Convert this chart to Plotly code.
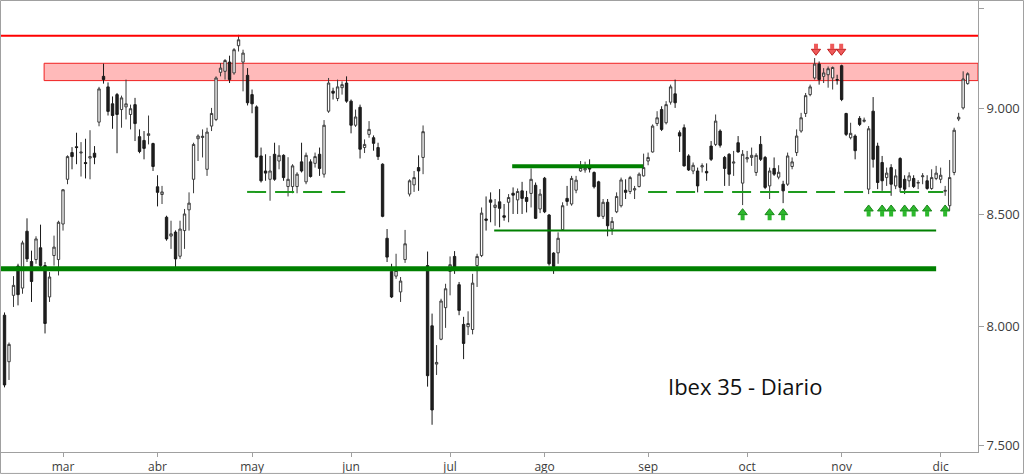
import numpy as np
import pandas as pd
import plotly.graph_objects as go

# ---------------- data ----------------
holidays = ["2016-03-25", "2016-03-28"]
dates = [d.strftime("%Y-%m-%d") for d in pd.bdate_range("2016-02-11", "2016-12-09")
         if d.strftime("%Y-%m-%d") not in holidays]

opens = [8048, 7848, 8135, 8265, 8167, 8422, 8285, 8294, 8347, 8267,
         8128, 8312, 8294, 8455, 8662, 8788, 8816, 8786, 8741, 8762,
         8785, 8934, 9158, 9106, 9023, 9068, 8995, 9008, 8971, 9019,
         8864, 8846, 8870, 8831, 8627, 8591, 8486, 8400, 8418, 8309,
         8425, 8520, 8662, 8854, 8860, 8709, 8915, 8947, 9178, 9183,
         9229, 9175, 9311, 9229, 9163, 9068, 9008, 8772, 8701, 8662,
         8780, 8748, 8775, 8628, 8628, 8628, 8744, 8650, 8744, 8737,
         8780, 8686, 8987, 9085, 9049, 9102, 9125, 9036, 8919, 9006,
         8812, 8875, 8859, 8812, 8733, 8390, 8241, 8220, 8150, 8294,
         8593, 8636, 8717, 8765, 8267, 8002, 7838, 7944, 8081, 8241,
         8308, 8182, 8008, 7998, 7986, 8267, 8312, 8478, 8566, 8531,
         8557, 8493, 8555, 8597, 8566, 8608, 8577, 8596, 8634, 8524,
         8667, 8496, 8323, 8324, 8429, 8573, 8547, 8611, 8701, 8706,
         8717, 8694, 8650, 8490, 8555, 8432, 8511, 8539, 8611, 8605,
         8612, 8628, 8678, 8748, 8791, 8927, 8995, 8931, 9031, 9072,
         8883, 8907, 8772, 8701, 8701, 8720, 8699, 8819, 8827, 8891,
         8765, 8780, 8738, 8835, 8644, 8758, 8765, 8694, 8827, 8765,
         8631, 8713, 8672, 8639, 8639, 8722, 8788, 8891, 8976, 9068,
         9150, 9219, 9158, 9166, 9150, 9142, 9211, 8976, 8859, 8867,
         8952, 8938, 8616, 8987, 8819, 8741, 8670, 8717, 8631, 8760,
         8662, 8655, 8666, 8644, 8674, 8655, 8619, 8666, 8662, 8606,
         8539, 8694, 8949, 9003, 9122]
highs = [8060, 7930, 8220, 8275, 8379, 8481, 8334, 8399, 8452, 8283,
         8238, 8402, 8470, 8616, 8775, 8814, 8883, 8838, 8854, 8895,
         8819, 9106, 9221, 9128, 9059, 9076, 9063, 9142, 9019, 9052,
         8899, 8891, 8966, 8835, 8681, 8631, 8493, 8470, 8426, 8470,
         8524, 8601, 8835, 8875, 8899, 8907, 9003, 9158, 9224, 9244,
         9261, 9299, 9366, 9291, 9199, 9093, 9015, 8812, 8780, 8772,
         8835, 8823, 8780, 8766, 8733, 8695, 8835, 8788, 8756, 8788,
         8812, 8944, 9150, 9102, 9142, 9133, 9158, 9044, 8995, 9019,
         8851, 8939, 8870, 8835, 8737, 8432, 8275, 8320, 8216, 8428,
         8662, 8701, 8775, 8918, 8330, 8055, 7919, 8120, 8186, 8308,
         8332, 8194, 8041, 8065, 8230, 8320, 8531, 8582, 8601, 8570,
         8616, 8547, 8593, 8624, 8619, 8650, 8608, 8713, 8647, 8616,
         8673, 8501, 8327, 8417, 8555, 8631, 8678, 8678, 8748, 8745,
         8756, 8699, 8655, 8570, 8570, 8487, 8601, 8670, 8662, 8678,
         8631, 8694, 8783, 8788, 8923, 8987, 9011, 9036, 9117, 9142,
         8894, 8923, 8780, 8741, 8717, 8737, 8737, 8843, 8971, 8899,
         8772, 8785, 8796, 8867, 8800, 8796, 8812, 8785, 8867, 8772,
         8717, 8765, 8728, 8655, 8788, 8765, 8899, 8979, 9076, 9117,
         9249, 9232, 9199, 9207, 9207, 9166, 9216, 8979, 8931, 8875,
         8963, 8956, 8915, 9056, 8835, 8772, 8717, 8733, 8709, 8766,
         8681, 8695, 8681, 8658, 8691, 8681, 8709, 8725, 8717, 8631,
         8753, 8907, 8979, 9183, 9178]
lows = [7740, 7771, 8084, 8091, 8142, 8283, 8106, 8275, 8253, 7969,
        8106, 8267, 8223, 8425, 8639, 8709, 8733, 8675, 8666, 8662,
        8733, 8914, 9122, 8966, 8902, 8785, 8907, 8947, 8899, 8843,
        8785, 8756, 8827, 8701, 8536, 8547, 8379, 8342, 8260, 8297,
        8342, 8425, 8597, 8748, 8765, 8678, 8891, 8939, 9158, 9142,
        9125, 9166, 9282, 9084, 9015, 8977, 8765, 8647, 8655, 8562,
        8655, 8709, 8655, 8582, 8597, 8597, 8694, 8639, 8670, 8717,
        8678, 8670, 8979, 9044, 9036, 9068, 9028, 8880, 8911, 8760,
        8786, 8859, 8797, 8753, 8486, 8283, 8123, 8208, 8106, 8279,
        8582, 8603, 8608, 8686, 7743, 7585, 7792, 7940, 7993, 8135,
        8230, 8048, 7859, 7962, 7965, 8172, 8305, 8425, 8463, 8447,
        8440, 8470, 8463, 8501, 8501, 8501, 8508, 8531, 8478, 8505,
        8505, 8267, 8230, 8275, 8425, 8539, 8539, 8597, 8697, 8693,
        8694, 8619, 8486, 8478, 8399, 8405, 8505, 8531, 8570, 8593,
        8570, 8624, 8675, 8728, 8788, 8915, 8891, 8923, 9019, 9003,
        8791, 8722, 8701, 8686, 8601, 8694, 8655, 8748, 8819, 8812,
        8631, 8631, 8678, 8788, 8542, 8741, 8725, 8678, 8748, 8616,
        8570, 8678, 8662, 8551, 8631, 8709, 8772, 8883, 8959, 9060,
        9142, 9117, 9125, 9102, 9093, 9117, 9036, 8867, 8851, 8756,
        8915, 8932, 8593, 8717, 8616, 8608, 8631, 8585, 8616, 8602,
        8593, 8625, 8621, 8616, 8639, 8613, 8613, 8658, 8644, 8585,
        8516, 8681, 8939, 8995, 9117]
closes = [7750, 7922, 8179, 8138, 8369, 8297, 8196, 8387, 8267, 8012,
          8216, 8350, 8463, 8613, 8769, 8769, 8812, 8790, 8736, 8769,
          8766, 9096, 9142, 8986, 8966, 8971, 9052, 9023, 8999, 8927,
          8793, 8808, 8878, 8722, 8601, 8603, 8387, 8410, 8297, 8432,
          8501, 8551, 8827, 8867, 8866, 8886, 8976, 9150, 9199, 9237,
          9142, 9291, 9341, 9274, 9028, 9023, 8767, 8655, 8691, 8701,
          8662, 8775, 8670, 8662, 8725, 8686, 8701, 8775, 8675, 8769,
          8713, 8919, 9125, 9075, 9106, 9117, 9036, 8919, 8959, 8804,
          8827, 8899, 8832, 8769, 8490, 8305, 8128, 8245, 8198, 8365,
          8655, 8670, 8701, 8888, 7789, 7646, 7845, 8110, 8164, 8271,
          8257, 8069, 7926, 8012, 8189, 8308, 8505, 8472, 8555, 8542,
          8527, 8486, 8577, 8588, 8605, 8573, 8559, 8662, 8481, 8593,
          8511, 8275, 8263, 8390, 8539, 8559, 8666, 8658, 8717, 8714,
          8710, 8627, 8490, 8555, 8447, 8467, 8582, 8659, 8601, 8670,
          8618, 8686, 8717, 8765, 8915, 8955, 8899, 9019, 9106, 9028,
          8867, 8725, 8706, 8728, 8631, 8726, 8692, 8756, 8939, 8823,
          8713, 8686, 8743, 8791, 8780, 8764, 8775, 8775, 8756, 8624,
          8701, 8686, 8695, 8608, 8772, 8744, 8867, 8955, 9063, 9106,
          9219, 9142, 9175, 9196, 9202, 9140, 9044, 8875, 8880, 8797,
          8923, 8943, 8902, 8756, 8647, 8655, 8691, 8639, 8678, 8624,
          8616, 8678, 8628, 8647, 8678, 8619, 8670, 8691, 8681, 8610,
          8670, 8895, 8958, 9145, 9171]

month_labels = ["mar", "abr", "may", "jun", "jul", "ago", "sep", "oct", "nov", "dic"]
y_tick_values = [7500, 8000, 8500, 9000, 9500]
y_tick_labels = ["7.500", "8.000", "8.500", "9.000", "9.500"]

# analyst drawings (price levels, trading-day spans)
resistance_line = 9361
resistance_band = (9137, 9223)
band_start = 8.8
main_support = 8253
main_support_end = 207
lower_channel = 8425
lower_channel_span = (108.8, 207)
range_top = 8723
range_top_span = (112.8, 141.9)
dashed_support = 8603
dashed_spans = [(53.9, 75.7), (143, 208.6)]
green_arrow_days = [164, 170, 173, 192, 195, 197, 200, 202, 205, 209]
green_arrow_heads = [8507, 8507, 8507, 8524, 8524, 8524, 8524, 8524, 8524, 8524]
red_arrow_days = [180.3, 183.9, 185.9]
red_arrow_heads = [9283, 9283, 9283]

# ---------------- figure ----------------
x_idx = list(range(len(dates)))
month_ticks = [i for i in range(1, len(dates)) if dates[i][5:7] != dates[i - 1][5:7]]

X_MIN, X_MAX = -0.78, 216.3

fig = go.Figure()

fig.add_trace(go.Candlestick(
    x=x_idx, open=opens, high=highs, low=lows, close=closes,
    increasing=dict(line=dict(color="#3a3a3a", width=1), fillcolor="#ffffff"),
    decreasing=dict(line=dict(color="#1a1a1a", width=1), fillcolor="#1e1e1e"),
    whiskerwidth=0, hoverinfo="skip"))

# red resistance line
fig.add_trace(go.Scatter(x=[X_MIN - 1, X_MAX + 1], y=[resistance_line] * 2, mode="lines",
                         line=dict(color="#ff0000", width=2), hoverinfo="skip"))
# main support
fig.add_trace(go.Scatter(x=[X_MIN - 1, main_support_end], y=[main_support] * 2, mode="lines",
                         line=dict(color="#008000", width=5), hoverinfo="skip"))
# lower channel
fig.add_trace(go.Scatter(x=list(lower_channel_span), y=[lower_channel] * 2, mode="lines",
                         line=dict(color="#008000", width=2), hoverinfo="skip"))
# range top
fig.add_trace(go.Scatter(x=list(range_top_span), y=[range_top] * 2, mode="lines",
                         line=dict(color="#008000", width=4), hoverinfo="skip"))
# dashed support
for a, b in dashed_spans:
    fig.add_trace(go.Scatter(x=[a, b], y=[dashed_support] * 2, mode="lines",
                             line=dict(color="#1e9b1e", width=2, dash="19px,9px"), hoverinfo="skip"))

# arrow heads
fig.add_trace(go.Scatter(x=green_arrow_days, y=green_arrow_heads, mode="markers",
                         marker=dict(symbol="triangle-up", size=8, color="#2db82d",
                                     line=dict(color="#1a861a", width=1)), hoverinfo="skip"))
fig.add_trace(go.Scatter(x=red_arrow_days, y=red_arrow_heads, mode="markers",
                         marker=dict(symbol="triangle-down", size=8, color="#ee5a5a",
                                     line=dict(color="#c02020", width=1)), hoverinfo="skip"))

annotations = []
# arrow shafts
for d, t in zip(green_arrow_days, green_arrow_heads):
    annotations.append(dict(x=d, y=np.log10(t), xref="x", yref="y", text="", showarrow=True,
                            ax=0, ay=9, arrowhead=0, arrowwidth=4, arrowcolor="#2db82d", standoff=2))
for d, t in zip(red_arrow_days, red_arrow_heads):
    annotations.append(dict(x=d, y=np.log10(t), xref="x", yref="y", text="", showarrow=True,
                            ax=0, ay=-9, arrowhead=0, arrowwidth=4, arrowcolor="#ee5a5a", standoff=2))
annotations.append(dict(x=0.7615, y=0.1457, xref="paper", yref="paper", text="Ibex 35 - Diario",
                        showarrow=False, xanchor="center", yanchor="middle",
                        font=dict(family="Open Sans", size=22, color="#111111")))

fig.update_layout(
    width=1024, height=476,
    margin=dict(l=1, r=46, t=1, b=22),
    paper_bgcolor="white", plot_bgcolor="white",
    showlegend=False, boxgap=0.25,
    font=dict(family="Open Sans", size=12, color="#3c3c3c"),
    annotations=annotations,
    shapes=[
        dict(type="rect", xref="x", yref="y", x0=band_start, x1=X_MAX,
             y0=resistance_band[0], y1=resistance_band[1],
             line=dict(color="#f02020", width=1), fillcolor="#ffbaba", layer="below"),
        dict(type="rect", xref="paper", yref="paper",
             x0=-0.0005, x1=1.0466, y0=-0.0475, y1=1.0011,
             line=dict(color="#a0a0a0", width=1), fillcolor="rgba(0,0,0,0)", layer="above"),
    ],
    xaxis=dict(range=[X_MIN, X_MAX], tickmode="array", tickvals=month_ticks, ticktext=month_labels,
               ticks="outside", ticklen=4, tickcolor="#a0a0a0", showline=True, linecolor="#a0a0a0",
               linewidth=1, showgrid=False, zeroline=False, rangeslider=dict(visible=False),
               tickfont=dict(size=12)),
    yaxis=dict(type="log", side="right", range=[np.log10(7474), np.log10(9539)],
               tickmode="array", tickvals=y_tick_values, ticktext=y_tick_labels,
               ticks="outside", ticklen=5, tickcolor="#a0a0a0", showline=True, linecolor="#a0a0a0",
               linewidth=1, showgrid=False, zeroline=False, tickfont=dict(size=13)),
)

fig.write_html("out.html")
